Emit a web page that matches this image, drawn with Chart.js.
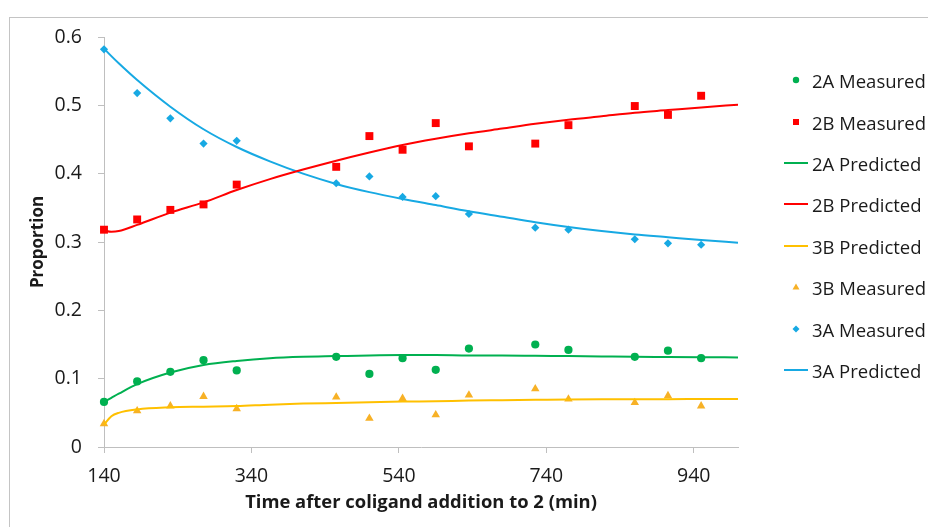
<!DOCTYPE html>
<html>
<head>
<meta charset="utf-8">
<script src="https://cdn.jsdelivr.net/npm/chart.js@4.4.1/dist/chart.umd.min.js"></script>
<style>
    html, body { margin: 0; padding: 0; background: #fff; overflow: hidden; }
    #wrap { position: relative; width: 928px; height: 527px; }
    #frame { position: absolute; left: 9px; top: 17px; width: 940px; height: 540px; border: 1px solid #c4c4c4; box-sizing: border-box; }
    #chart { position: absolute; left: 0; top: 0; }
    #legend { position: absolute; left: 782px; top: 0; font-family: 'Open Sans', sans-serif; font-size: 18.5px; color: #1a1a1a; }
    .item { position: absolute; left: 0; height: 24px; display: flex; align-items: center; white-space: nowrap; }
    .item svg { width: 30px; height: 14px; flex: none; }
</style>
</head>
<body>
<div id="wrap">
    <div id="frame"></div>
    <canvas id="chart" width="928" height="527"></canvas>
    <div id="legend"></div>
</div>
<script>
    // measured sample times (min)
    const measTime = [140, 185, 230, 275, 320, 455, 500, 545, 590, 635, 725, 770, 860, 905, 950];
    const meas2A = [0.066, 0.096, 0.110, 0.127, 0.112, 0.132, 0.107, 0.130, 0.113, 0.144, 0.150, 0.142, 0.132, 0.141, 0.130];
    const meas2B = [0.318, 0.333, 0.347, 0.355, 0.384, 0.410, 0.455, 0.435, 0.474, 0.440, 0.444, 0.471, 0.499, 0.486, 0.514];
    const meas3B = [0.034, 0.053, 0.060, 0.074, 0.056, 0.073, 0.042, 0.071, 0.047, 0.076, 0.085, 0.070, 0.065, 0.075, 0.060];
    const meas3A = [0.582, 0.518, 0.481, 0.444, 0.448, 0.386, 0.396, 0.366, 0.367, 0.341, 0.321, 0.318, 0.304, 0.298, 0.296];

    // model curves
    const predTime = [140, 150, 160, 185, 230, 275, 320, 365, 410, 455, 500, 545, 590, 635, 680, 725, 770, 815, 860, 905, 950, 1000];
    const pred2A = [0.066, 0.072, 0.078, 0.092, 0.109, 0.120, 0.126, 0.130, 0.132, 0.133, 0.134, 0.1345, 0.1345, 0.134, 0.134, 0.1335, 0.133, 0.1325, 0.132, 0.1318, 0.1315, 0.131];
    const pred2B = [0.317, 0.315, 0.316, 0.325, 0.343, 0.358, 0.376, 0.392, 0.406, 0.419, 0.431, 0.442, 0.451, 0.459, 0.466, 0.473, 0.479, 0.484, 0.489, 0.493, 0.497, 0.501];
    const pred3B = [0.033, 0.045, 0.050, 0.055, 0.058, 0.059, 0.060, 0.062, 0.0635, 0.0645, 0.0655, 0.0665, 0.067, 0.068, 0.0685, 0.069, 0.0695, 0.0698, 0.070, 0.070, 0.0702, 0.0704];
    const pred3A = [0.583, 0.572, 0.5615, 0.537, 0.498, 0.465, 0.439, 0.418, 0.400, 0.385, 0.373, 0.363, 0.354, 0.345, 0.337, 0.329, 0.322, 0.316, 0.311, 0.307, 0.303, 0.299];

    const xTicks = [140, 340, 540, 740, 940];
    const yTicks = [0, 0.1, 0.2, 0.3, 0.4, 0.5, 0.6];

    const GREEN = '#00b050';
    const RED = '#ff0000';
    const GOLD = '#ffc000';
    const TRI = '#f7b126';
    const BLUE = '#17a9e3';

    function pts(xs, ys) {
        return xs.map((x, i) => ({ x: x, y: ys[i] }));
    }

    function measured(label, ys, color, style, r) {
        return {
            label: label, data: pts(measTime, ys), showLine: false,
            pointStyle: style, pointRadius: r, pointBackgroundColor: color,
            pointBorderColor: color, pointBorderWidth: 0, clip: false
        };
    }

    function predicted(label, ys, color) {
        return {
            label: label, data: pts(predTime, ys), showLine: true,
            borderColor: color, borderWidth: 2, pointRadius: 0,
            cubicInterpolationMode: 'monotone', fill: false, clip: false,
            pointStyle: 'line'
        };
    }

    const datasets = [
        measured('2A Measured', meas2A, GREEN, 'circle', 4.1),
        measured('2B Measured', meas2B, RED, 'rect', 5.6),
        predicted('2A Predicted', pred2A, GREEN),
        predicted('2B Predicted', pred2B, RED),
        predicted('3B Predicted', pred3B, GOLD),
        measured('3B Measured', meas3B, TRI, 'triangle', 4.9),
        measured('3A Measured', meas3A, BLUE, 'rectRot', 4.1),
        predicted('3A Predicted', pred3A, BLUE)
    ];

    Chart.defaults.font.family = "'Open Sans', sans-serif";
    const tickFont = { size: 19.5 };
    const axisGray = '#bfbfbf';

    new Chart(document.getElementById('chart'), {
        type: 'scatter',
        data: { datasets: datasets },
        options: {
            responsive: false,
            animation: false,
            layout: { padding: { left: 0, top: 37, right: 190, bottom: 0 } },
            plugins: { legend: { display: false }, tooltip: { enabled: false } },
            scales: {
                x: {
                    type: 'linear', min: 140, max: 1000,
                    afterBuildTicks: s => { s.ticks = xTicks.map(v => ({ value: v })); },
                    afterFit: s => { s.height = 80; },
                    grid: { drawOnChartArea: false, drawTicks: true, tickLength: 6, color: axisGray },
                    border: { color: axisGray, width: 1 },
                    ticks: { font: tickFont, color: '#1a1a1a', padding: 12, maxRotation: 0 },
                    title: { display: true, text: 'Time after coligand addition to 2 (min)', color: '#1a1a1a',
                        font: { size: 18.4, weight: 'bold' }, padding: { top: 0, bottom: 13 } }
                },
                y: {
                    type: 'linear', min: 0, max: 0.6,
                    afterBuildTicks: s => { s.ticks = yTicks.map(v => ({ value: v })); },
                    afterFit: s => { s.width = 104; },
                    grid: { drawOnChartArea: false, drawTicks: true, tickLength: 6, color: axisGray },
                    border: { color: axisGray, width: 1 },
                    ticks: { font: tickFont, color: '#1a1a1a', padding: 16,
                        callback: v => v === 0 ? '0' : v.toFixed(1) },
                    title: { display: true, text: 'Proportion', color: '#1a1a1a',
                        font: { size: 17, weight: 'bold' }, padding: { top: 28, bottom: 0 } }
                }
            }
        }
    });

    // legend, built from the datasets
    function markerSvg(ds) {
        const c = ds.pointBackgroundColor || ds.borderColor;
        let shape = '';
        if (ds.pointStyle === 'line') shape = '<line x1="2" y1="7" x2="26" y2="7" stroke="' + c + '" stroke-width="2"/>';
        else if (ds.pointStyle === 'circle') shape = '<circle cx="14" cy="7" r="3.2" fill="' + c + '"/>';
        else if (ds.pointStyle === 'rect') shape = '<rect x="11" y="4" width="6" height="6" fill="' + c + '"/>';
        else if (ds.pointStyle === 'triangle') shape = '<polygon points="14,3.6 17.5,9.6 10.5,9.6" fill="' + c + '"/>';
        else if (ds.pointStyle === 'rectRot') shape = '<polygon points="14,3.5 17.5,7 14,10.5 10.5,7" fill="' + c + '"/>';
        return '<svg viewBox="0 0 30 14">' + shape + '</svg>';
    }

    const legendY = [80, 122, 163, 204, 246, 287, 329, 370];
    const legend = document.getElementById('legend');
    datasets.forEach((ds, i) => {
        const div = document.createElement('div');
        div.className = 'item';
        div.style.top = (legendY[i] - 12) + 'px';
        div.innerHTML = markerSvg(ds) + '<span>' + ds.label + '</span>';
        legend.appendChild(div);
    });
</script>
</body>
</html>
